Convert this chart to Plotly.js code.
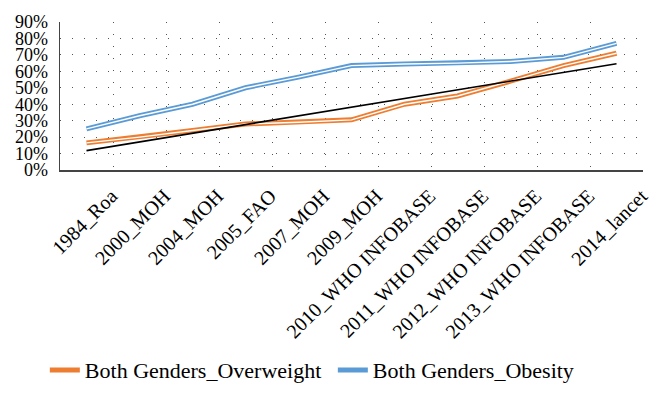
<!DOCTYPE html>
<html>
<head>
<meta charset="utf-8">
<script src="https://cdn.plot.ly/plotly-3.0.1.min.js"></script>
<style>html,body{margin:0;padding:0;background:#fff;}#chart{width:662px;height:404px;}</style>
</head>
<body>
<div id="chart"></div>
<script>
const categories = ["1984_Roa","2000_MOH","2004_MOH","2005_FAO","2007_MOH","2009_MOH",
  "2010_WHO INFOBASE","2011_WHO INFOBASE","2012_WHO INFOBASE","2013_WHO INFOBASE","2014_lancet"];
const overweight = [16.5, 20, 24, 28, 29, 30.5, 40, 45, 54, 63.5, 71];
const obesity = [25, 33, 40, 50, 56.5, 63.5, 64.5, 65, 66, 68.5, 77];
const trendCats = ["1984_Roa", "2014_lancet"];
const trendVals = [11.8, 64.6];

const orange = "#ED7D31", blue = "#5B9BD5";
const font = "Liberation Serif, Times New Roman, serif";

const traces = [
  {x: categories, y: overweight, type: "scatter", mode: "lines", name: "Both Genders_Overweight",
   line: {color: orange, width: 5}, legendgroup: "ow"},
  {x: categories, y: overweight, type: "scatter", mode: "lines", showlegend: false,
   line: {color: "#ffffff", width: 1.4}, legendgroup: "ow", hoverinfo: "skip"},
  {x: categories, y: obesity, type: "scatter", mode: "lines", name: "Both Genders_Obesity",
   line: {color: blue, width: 5}, legendgroup: "ob"},
  {x: categories, y: obesity, type: "scatter", mode: "lines", showlegend: false,
   line: {color: "#ffffff", width: 1.4}, legendgroup: "ob", hoverinfo: "skip"},
  {x: trendCats, y: trendVals, type: "scatter", mode: "lines", showlegend: false,
   line: {color: "#000000", width: 1.6}}
];

const layout = {
  width: 662, height: 404,
  margin: {l: 60, r: 19, t: 22, b: 226},
  paper_bgcolor: "#fff", plot_bgcolor: "#fff",
  font: {family: font, size: 20, color: "#000"},
  showlegend: true,
  legend: {orientation: "h", x: -0.026, xanchor: "left", y: -1.21, yanchor: "top",
    font: {family: font, size: 22, color: "#000"}, itemwidth: 30, traceorder: "normal",
    entrywidth: 243, entrywidthmode: "pixels"},
  xaxis: {type: "category", categoryorder: "array", categoryarray: categories,
    tickangle: -45, tickson: "boundaries", ticks: "", showgrid: true,
    ticklabelshift: 25, ticklabelstandoff: 5,
    tickfont: {family: font, size: 20, color: "#000"},
    gridcolor: "#555", griddash: "1px,11px", gridwidth: 1,
    showline: true, linecolor: "#444", linewidth: 1.5, automargin: false,
    range: [-0.5, 10.5], fixedrange: true},
  yaxis: {range: [0, 90], dtick: 10, ticksuffix: "%", ticks: "",
    ticklabelstandoff: 7,
    tickfont: {family: font, size: 18, color: "#000"},
    showgrid: true, gridcolor: "#555", griddash: "1px,11px", gridwidth: 1,
    showline: true, linecolor: "#444", linewidth: 1.5, zeroline: false,
    automargin: false, fixedrange: true},
};

Plotly.newPlot("chart", traces, layout, {displayModeBar: false, staticPlot: true});
</script>
</body>
</html>
